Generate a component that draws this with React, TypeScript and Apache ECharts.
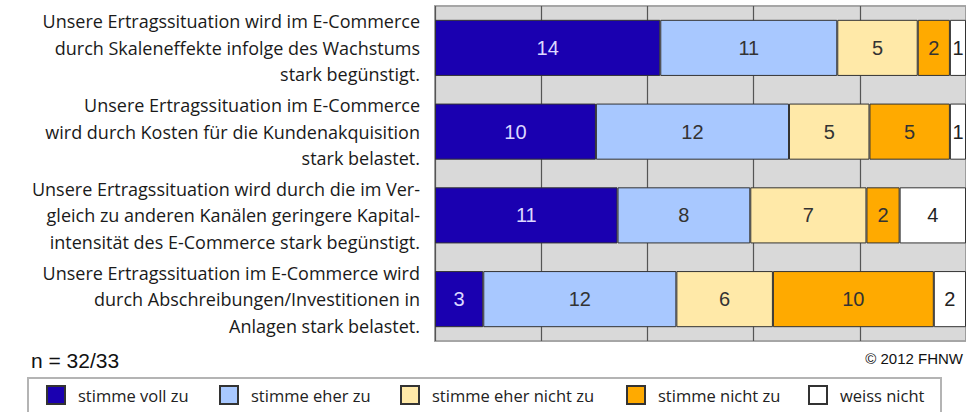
import React, { useEffect, useRef } from "react";
import * as echarts from "echarts";

const categories = [
  "Unsere Ertragssituation wird im E-Commerce\ndurch Skaleneffekte infolge des Wachstums\nstark begünstigt.",
  "Unsere Ertragssituation im E-Commerce\nwird durch Kosten für die Kundenakquisition\nstark belastet.",
  "Unsere Ertragssituation wird durch die im Ver-\ngleich zu anderen Kanälen geringere Kapital-\nintensität des E-Commerce stark begünstigt.",
  "Unsere Ertragssituation im E-Commerce wird\ndurch Abschreibungen/Investitionen in\nAnlagen stark belastet.",
];
const seriesNames = [
  "stimme voll zu",
  "stimme eher zu",
  "stimme eher nicht zu",
  "stimme nicht zu",
  "weiss nicht",
];
const stimmeVollZu = [14, 10, 11, 3];
const stimmeEherZu = [11, 12, 8, 12];
const stimmeEherNichtZu = [5, 5, 7, 6];
const stimmeNichtZu = [2, 5, 2, 10];
const weissNicht = [1, 1, 4, 2];
const xTicks = [0, 20, 40, 60, 80, 100];
const sampleNote = "n = 32/33";
const copyright = "© 2012 FHNW";

const colors = ["#1a00b0", "#a8c8ff", "#ffe9a8", "#ffaa00", "#ffffff"];
const labelColors = ["#dcd8ff", "#333333", "#333333", "#333333", "#222222"];
const legendLeft = [46, 219, 400, 626, 808];
const HUMANIST = "'Open Sans', 'Noto Sans', sans-serif";
const ARIAL = "'Liberation Sans', Arial, sans-serif";

export default function App() {
  const ref = useRef<HTMLDivElement>(null);
  useEffect(() => {
    if (!ref.current) return;
    const chart = echarts.init(ref.current, undefined, { renderer: "svg" });
    const raw = [stimmeVollZu, stimmeEherZu, stimmeEherNichtZu, stimmeNichtZu, weissNicht];
    const totals = categories.map((_, i) => raw.reduce((s, arr) => s + arr[i], 0));
    const series = raw.map((arr, k) => ({
      name: seriesNames[k],
      type: "bar",
      stack: "total",
      barCategoryGap: "33%",
      itemStyle: { color: colors[k], borderColor: "#333333", borderWidth: 1 },
      label: {
        show: true,
        position: "inside",
        fontFamily: ARIAL,
        fontSize: 20,
        color: labelColors[k],
        formatter: (p: any) => String(arr[p.dataIndex]),
      },
      data: arr.map((v, i) => (v / totals[i]) * 100),
    }));
    chart.setOption({
      animation: false,
      grid: {
        left: 435,
        top: 6,
        width: 532,
        height: 335,
        show: true,
        backgroundColor: "#d9d9d9",
        borderColor: "#a6a6a6",
        borderWidth: 2,
      },
      xAxis: {
        type: "value",
        min: xTicks[0],
        max: xTicks[xTicks.length - 1],
        interval: xTicks[1] - xTicks[0],
        axisLabel: { show: false },
        axisLine: { show: false },
        axisTick: { show: false },
        splitLine: { show: true, lineStyle: { color: "#555555", width: 1.2 } },
      },
      yAxis: {
        type: "category",
        data: categories,
        inverse: true,
        axisLine: { show: false },
        axisTick: { show: false },
        axisLabel: {
          interval: 0,
          hideOverlap: false,
          margin: 15,
          fontFamily: HUMANIST,
          fontSize: 18,
          lineHeight: 26.5,
          color: "#1a1a1a",
          align: "right",
          padding: [3, 0, 0, 0],
        },
      },
      legend: seriesNames.map((name, i) => ({
        left: legendLeft[i],
        top: 385,
        padding: 0,
        itemWidth: 18,
        itemHeight: 18,
        icon: "rect",
        selectedMode: false,
        data: [name],
        textStyle: {
          fontFamily: HUMANIST,
          fontSize: 16.5,
          color: "#222222",
          padding: [0, 0, 0, 8],
        },
      })),
      graphic: [
        {
          type: "rect",
          shape: { x: 28, y: 378, width: 913, height: 44 },
          style: { fill: "none", stroke: "#b4b4b4", lineWidth: 2 },
          silent: true,
        },
        {
          type: "text",
          x: 31,
          y: 360,
          style: {
            text: sampleNote,
            fontFamily: ARIAL,
            fontSize: 21,
            fill: "#111111",
            textAlign: "left",
            textVerticalAlign: "middle",
          },
        },
        {
          type: "text",
          x: 963,
          y: 358,
          style: {
            text: copyright,
            fontFamily: ARIAL,
            fontSize: 15,
            fill: "#111111",
            textAlign: "right",
            textVerticalAlign: "middle",
          },
        },
      ],
      series,
    });
    return () => chart.dispose();
  }, []);
  return (
    <div
      ref={ref}
      style={{ position: "absolute", left: 0, top: 0, width: 966, height: 412 }}
    />
  );
}
